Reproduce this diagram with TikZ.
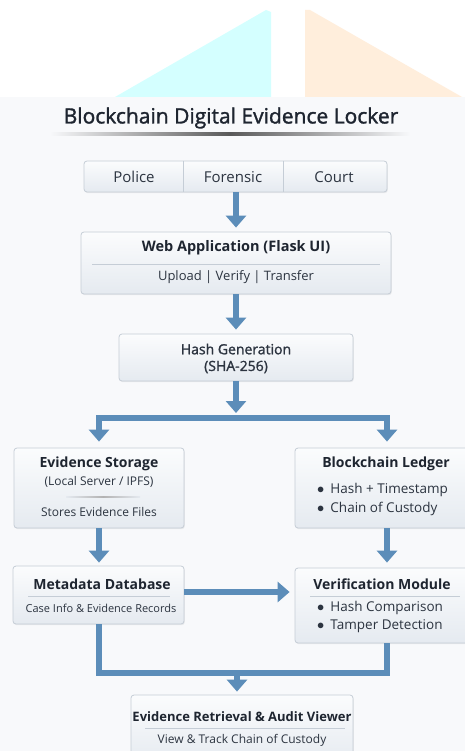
\documentclass[tikz,border=0pt]{standalone}
\usepackage{fontspec}
\setmainfont{Open Sans}
\newfontfamily\mediumfont[FakeBold=1.5]{Open Sans}
\usetikzlibrary{arrows.meta,shadows}

\definecolor{flowblue}{HTML}{5C8DB9}
\definecolor{boxline}{HTML}{C5CDD6}
\definecolor{boxtop}{HTML}{FBFCFD}
\definecolor{boxbot}{HTML}{E5EAF0}
\definecolor{inktext}{HTML}{1E2530}
\definecolor{subtext}{HTML}{2C3440}
\definecolor{paper}{HTML}{F8F9FB}
\definecolor{cyantri}{HTML}{D4FFFF}
\definecolor{peachtri}{HTML}{FFEEDC}

\begin{document}
\begin{tikzpicture}[x=1pt,y=-1pt,
  box/.style={draw=boxline,line width=0.8pt,rounded corners=3pt,top color=boxtop,bottom color=boxbot,inner sep=0pt,
    drop shadow={opacity=0.12,shadow xshift=0.8pt,shadow yshift=-1.2pt}},
  head/.style={text=inktext,inner sep=0pt,font=\fontsize{14}{16}\selectfont\bfseries},
  sub/.style={text=subtext,inner sep=0pt,font=\fontsize{12}{14}\selectfont},
  item/.style={sub,anchor=west,font=\fontsize{13.5}{15}\selectfont},
  sep/.style={draw=boxline,line width=0.6pt},
  pipe/.style={draw=flowblue,line width=6pt,line join=miter},
  flow/.style={pipe,-{Triangle[width=20pt,length=12pt]}}]
  \useasboundingbox (0,0) rectangle (465,751);
  % page
  \fill[white] (0,0) rectangle (465,751);
  \fill[paper] (0,97) rectangle (465,751);
  \fill[cyantri] (115,97) -- (266,10) -- (271,12) -- (271,97) -- cycle;
  \fill[peachtri] (305,97) -- (305,10) -- (310,10) -- (462,97) -- cycle;
  % title
  \node[text=inktext,inner sep=0pt,font=\fontsize{21}{24}\mediumfont] (title) at (231,118) {Blockchain Digital Evidence Locker};
  \shade[left color=paper,right color=paper,middle color=gray!70!black] (50,133) rectangle (410,135.5);
  % users
  \node[box,minimum width=303pt,minimum height=31pt] (roles) at (235.5,176.5) {};
  \draw[sep] (183,161) -- (183,192);
  \draw[sep] (283,161) -- (283,192);
  \node[sub,font=\fontsize{15}{17}\selectfont] (police) at (134,177) {Police};
  \node[sub,font=\fontsize{15}{17}\selectfont] (forensic) at (233,177) {Forensic};
  \node[sub,font=\fontsize{15}{17}\selectfont] (court) at (334,177) {Court};
  % web app
  \node[box,minimum width=310pt,minimum height=62pt] (web) at (236,263) {};
  \node[head,font=\fontsize{14.5}{17}\selectfont\bfseries] (webtitle) at (236,248) {Web Application (Flask UI)};
  \draw[sep] (92,264) -- (380,264);
  \node[sub,font=\fontsize{13}{15}\selectfont] (webops) at (236,277) {Upload | Verify | Transfer};
  % hashing
  \node[box,minimum width=234pt,minimum height=47pt] (hash) at (236,357.5) {};
  \node[sub,font=\fontsize{14}{16}\mediumfont] (hashtitle) at (236,349) {Hash Generation};
  \node[sub,font=\fontsize{14}{16}\mediumfont] (hashalgo) at (236,367) {(SHA-256)};
  % storage
  \node[box,minimum width=170pt,minimum height=80pt] (es) at (99,488) {};
  \node[head] (estitle) at (99,464) {Evidence Storage};
  \node[sub] (esloc) at (99,482) {(Local Server / IPFS)};
  \shade[left color=boxbot,right color=boxbot,middle color=gray!60] (66,496.5) rectangle (140,497.5);
  \node[sub] (esfiles) at (99,512) {Stores Evidence Files};
  % ledger
  \node[box,minimum width=184pt,minimum height=80pt] (bl) at (387,488) {};
  \node[head] (bltitle) at (386,464) {Blockchain Ledger};
  \node[item] (blhash) at (317,490) {$\bullet$\hspace{0.45em}Hash + Timestamp};
  \node[item] (blchain) at (317,509) {$\bullet$\hspace{0.45em}Chain of Custody};
  % metadata
  \node[box,minimum width=171pt,minimum height=58pt] (md) at (98.5,595) {};
  \node[head] (mdtitle) at (102,584) {Metadata Database};
  \draw[sep] (28,596) -- (170,596);
  \node[sub,font=\fontsize{11}{13}\selectfont] (mdinfo) at (101,608) {Case Info \& Evidence Records};
  % verification
  \node[box,minimum width=184pt,minimum height=75pt] (vm) at (387,605.5) {};
  \node[head] (vmtitle) at (382,584) {Verification Module};
  \draw[sep] (310,596) -- (460,596);
  \node[item] (vmhash) at (317,608) {$\bullet$\hspace{0.45em}Hash Comparison};
  \node[item] (vmtamper) at (317,626) {$\bullet$\hspace{0.45em}Tamper Detection};
  % retrieval
  \node[box,minimum width=222pt,minimum height=70pt] (ev) at (242,730) {};
  \node[head,font=\fontsize{13}{16}\selectfont\bfseries] (evtitle) at (242,717) {Evidence Retrieval \& Audit Viewer};
  \draw[sep] (145,728) -- (345,728);
  \node[sub] (evview) at (242,740) {View \& Track Chain of Custody};
  % arrows
  \coordinate (split) at (236,418);
  \coordinate (mdout) at ([yshift=3pt]md.east);
  \coordinate (merge) at (237,673);
  \draw[flow,shorten >=4pt] (roles.south -| web.north) -- (web.north);
  \draw[flow,shorten >=4pt] (web.south) -- (hash.north);
  \draw[flow,shorten >=5pt] (hash.south) -- (split);
  \draw[flow,shorten >=6pt] (split) -| (es.north);
  \draw[flow,shorten >=6pt] (split) -| (bl.north);
  \draw[flow,shorten >=3pt] (es.south) -- (es.south |- md.north);
  \draw[flow,shorten >=5pt] (bl.south) -- (bl.south |- vm.north);
  \draw[flow,shorten >=5pt] (mdout) -- (mdout -| vm.west);
  \draw[pipe] (md.south) |- (vm.south |- merge) -- (vm.south);
  \draw[flow,shorten >=3pt] (merge) -- (merge |- ev.north);
\end{tikzpicture}
\end{document}
